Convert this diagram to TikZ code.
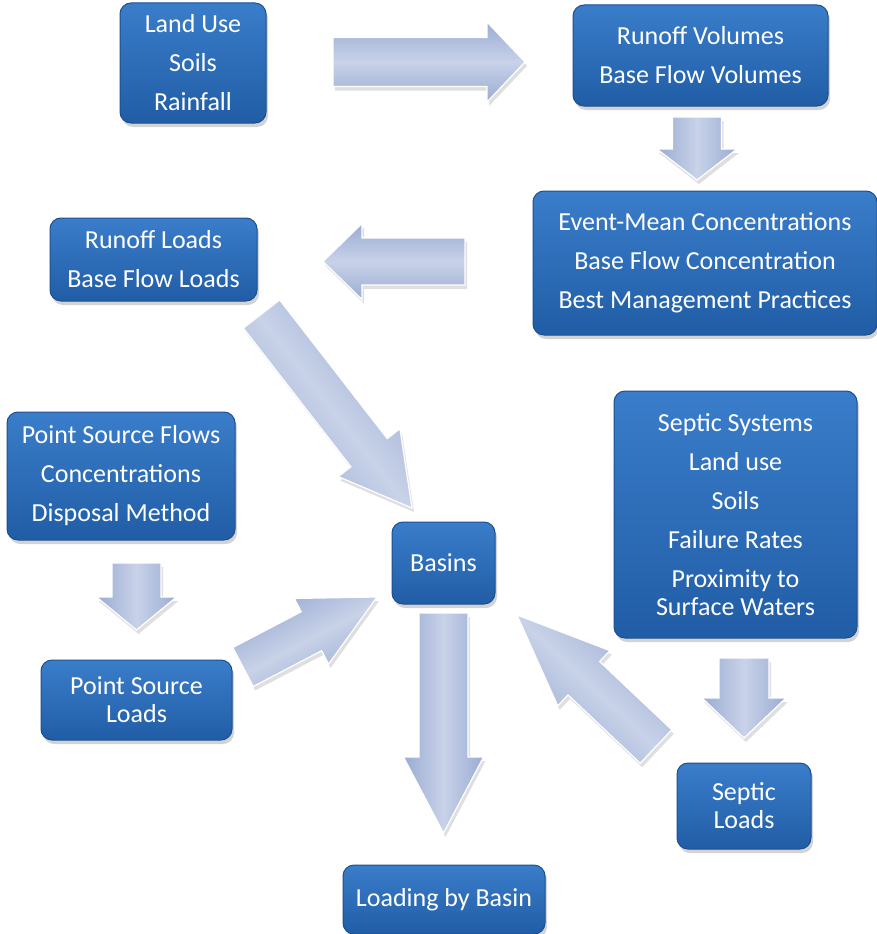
\documentclass[tikz,border=0pt]{standalone}
\usepackage{fontspec}
\setmainfont{Carlito}
\usetikzlibrary{calc,shadows}

\definecolor{boxtop}{HTML}{3A7DCA}
\definecolor{boxbot}{HTML}{215DA6}
\definecolor{boxline}{HTML}{1B4F8E}
\definecolor{arrowedge}{HTML}{9AACD3}
\definecolor{arrowmid}{HTML}{C8D2E8}

% block arrow: [shading angle]{tail}{tip}{body half width}{head half width}{head length}
\newcommand{\fatarrow}[6][0]{%
  \coordinate (hb) at ($(#3)!#6!(#2)$);
  \path[flowarrow, shading angle=#1]
    ($(#2)!#4!90:(#3)$) -- ($(hb)!#4!90:(#3)$) -- ($(hb)!#5!90:(#3)$) -- (#3)
    -- ($(hb)!#5!-90:(#3)$) -- ($(hb)!#4!-90:(#3)$) -- ($(#2)!#4!-90:(#3)$) -- cycle;}

\begin{document}
\begin{tikzpicture}[x=1pt,y=-1pt]
\tikzset{bluebox/.style={draw=boxline, line width=1pt, rounded corners=11pt,
    top color=boxtop, bottom color=boxbot, text=white, align=center,
    font=\fontsize{26}{28}\selectfont, inner sep=0pt,
    drop shadow={opacity=0.35, shadow xshift=2pt, shadow yshift=-4pt}},
  flowarrow/.style={draw=white, line width=1.2pt, line join=miter,
    left color=arrowedge, right color=arrowedge, middle color=arrowmid,
    drop shadow={opacity=0.25, shadow xshift=2pt, shadow yshift=-4pt}}}
\useasboundingbox (0,0) rectangle (877,934);

% boxes
\node[bluebox, minimum width=146pt, minimum height=120pt] (land) at (193,63) {Land Use\\[11pt]Soils\\[11pt]Rainfall};
\node[bluebox, minimum width=255pt, minimum height=101pt] (runvol) at (700.5,55.5) {Runoff Volumes\\[11pt]Base Flow Volumes};
\node[bluebox, minimum width=344pt, minimum height=144pt] (emc) at (705,263) {Event-Mean Concentrations\\[11pt]Base Flow Concentration\\[11pt]Best Management Practices};
\node[bluebox, minimum width=207pt, minimum height=83pt] (runload) at (153.5,259.5) {Runoff Loads\\[11pt]Base Flow Loads};
\node[bluebox, minimum width=228pt, minimum height=128pt] (psflow) at (121,476) {Point Source Flows\\[11pt]Concentrations\\[11pt]Disposal Method};
\node[bluebox, minimum width=103pt, minimum height=82pt] (basins) at (443.5,563) {Basins};
\node[bluebox, minimum width=243pt, minimum height=247pt] (septic) at (735.5,514.5) {Septic Systems\\[11pt]Land use\\[11pt]Soils\\[11pt]Failure Rates\\[11pt]Proximity to\\Surface Waters};
\node[bluebox, minimum width=191pt, minimum height=80pt] (psload) at (136.5,700) {Point Source\\Loads};
\node[bluebox, minimum width=134pt, minimum height=86pt] (septload) at (744,806) {Septic\\Loads};
\node[bluebox, minimum width=202pt, minimum height=69pt] (loadbasin) at (444,899.5) {Loading by Basin};

% arrow ends
\coordinate (landOut) at (333,62);
\coordinate (volIn) at (525,62);
\coordinate (volOut) at (697,117);
\coordinate (emcIn) at (697,180);
\coordinate (emcOut) at (465,261.5);
\coordinate (rlIn) at (323,261.5);
\coordinate (rlOut) at (261.5,314);
\coordinate (basA) at (412,508);
\coordinate (psfOut) at (136.5,563);
\coordinate (pslIn) at (136.5,630);
\coordinate (pslOut) at (243,667);
\coordinate (basB) at (377,597);
\coordinate (basOut) at (443.5,613);
\coordinate (lbIn) at (443.5,833);
\coordinate (slOut) at (656,746.5);
\coordinate (basC) at (517,615);
\coordinate (ssOut) at (744,658);
\coordinate (slIn) at (744,738);

% arrows
\fatarrow[0]{landOut}{volIn}{24.5pt}{40pt}{38pt}
\fatarrow[90]{volOut}{emcIn}{24.5pt}{40pt}{31pt}
\fatarrow[0]{emcOut}{rlIn}{23.5pt}{38pt}{39pt}
\fatarrow[-52]{rlOut}{basA}{23pt}{39pt}{70pt}
\fatarrow[90]{psfOut}{pslIn}{24.5pt}{40pt}{33pt}
\fatarrow[28]{pslOut}{basB}{22pt}{37pt}{74pt}
\fatarrow[90]{basOut}{lbIn}{24.5pt}{40pt}{76pt}
\fatarrow[-43]{slOut}{basC}{23pt}{38pt}{92pt}
\fatarrow[90]{ssOut}{slIn}{25pt}{42pt}{40pt}
\end{tikzpicture}
\end{document}
